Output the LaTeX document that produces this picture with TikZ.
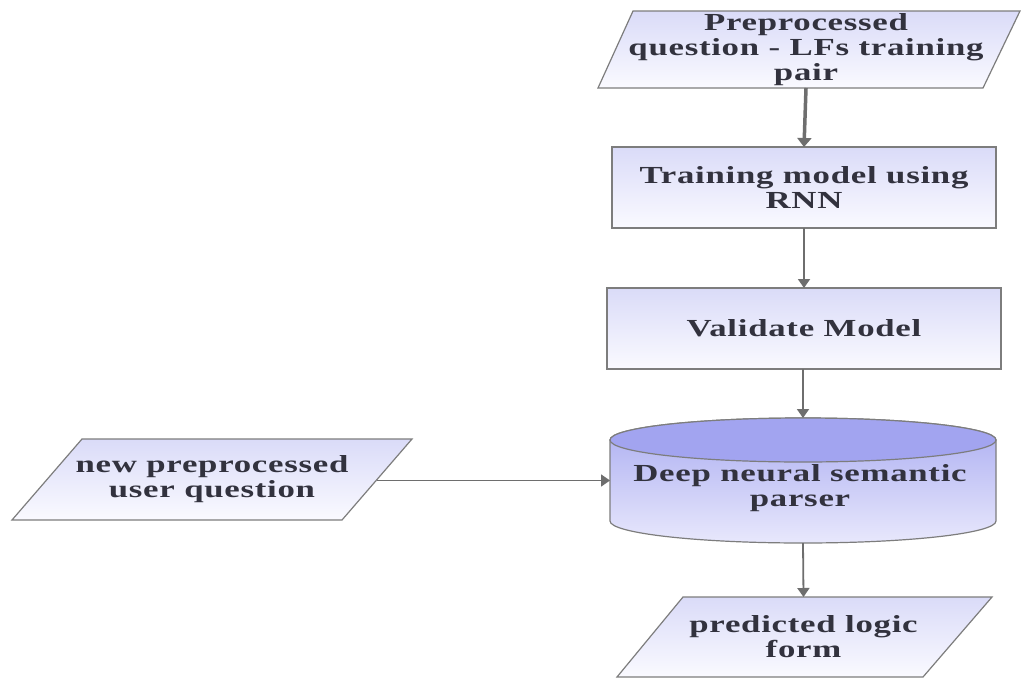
\documentclass[tikz,border=0pt]{standalone}
\usepackage{fontspec}
\setmainfont{Liberation Serif}[FakeStretch=1.42, LetterSpace=3]
\usetikzlibrary{arrows.meta}
\definecolor{lav}{RGB}{218,219,248}
\definecolor{pale}{RGB}{250,250,255}
\definecolor{cyltop}{RGB}{162,164,240}
\definecolor{cylbody}{RGB}{170,172,241}
\definecolor{cylbot}{RGB}{232,232,252}
\definecolor{edge}{RGB}{125,125,125}
\definecolor{arr}{RGB}{110,110,110}
\definecolor{txt}{RGB}{50,50,62}
\tikzset{
  shp/.style={draw=edge, line width=1.2pt, top color=lav, bottom color=pale},
  lbl/.style={inner sep=0pt, outer sep=0pt, align=center, text=txt,
    font=\fontsize{24.5}{25}\selectfont\bfseries},
  conn/.style={draw=arr, line width=1.8pt, -{Triangle[length=9pt,width=12pt]}},
}
\begin{document}
\begin{tikzpicture}[x=1pt,y=-1pt]
\useasboundingbox (0,0) rectangle (1025,680);
\fill[white] (0,0) rectangle (1025,680);
% top parallelogram
\path[shp] (633,11) -- (1020,11) -- (983,88) -- (598,88) -- cycle;
\node[lbl, minimum width=330pt, minimum height=77pt] (pre) at (806,49.5)
  {Preprocessed\\question - LFs training\\pair};
% training box
\path[shp] (612,147) rectangle (996,228);
\node[lbl, minimum width=384pt, minimum height=81pt] (train) at (804,187.5)
  {Training model using\\RNN};
% validate box
\path[shp] (607,288) rectangle (1001,369);
\node[lbl, minimum width=394pt, minimum height=81pt] (valid) at (804,328.5)
  {Validate Model};
% cylinder
\path[draw=edge, line width=1.2pt, top color=cylbody, bottom color=cylbot]
  (610,440) -- (610,521)
  arc[start angle=180, end angle=360, x radius=193pt, y radius=22pt]
  -- (996,440)
  arc[start angle=0, end angle=180, x radius=193pt, y radius=22pt] -- cycle;
\path[draw=edge, line width=1.2pt, fill=cyltop] (803,440) ellipse [x radius=193pt, y radius=22pt];
\node[inner sep=0pt, outer sep=0pt, minimum width=386pt, minimum height=125pt] (parser) at (803,480.5) {};
\node[lbl] (parsertext) at (800,488) {Deep neural semantic\\parser};
% left parallelogram
\path[shp] (82,439) -- (412,439) -- (342,520) -- (12,520) -- cycle;
\node[lbl, minimum width=330pt, minimum height=81pt] (newq) at (212,479.5)
  {new preprocessed\\user question};
% bottom parallelogram
\path[shp] (683,597) -- (992,597) -- (923,677) -- (617,677) -- cycle;
\node[lbl, minimum width=240pt, minimum height=80pt] (out) at (803.5,637)
  {predicted logic\\form};
% connectors
\draw[conn, line width=3.5pt, -{Triangle[length=9pt,width=14pt]}] (pre.south) -- (train.north);
\draw[conn] (train.south) -- (valid.north);
\draw[conn] (valid.south -| parser.north) -- (parser.north);
\draw[conn] (newq.east |- parser.west) -- (parser.west);
\draw[conn] (parser.south) -- (out.north);
\end{tikzpicture}
\end{document}
